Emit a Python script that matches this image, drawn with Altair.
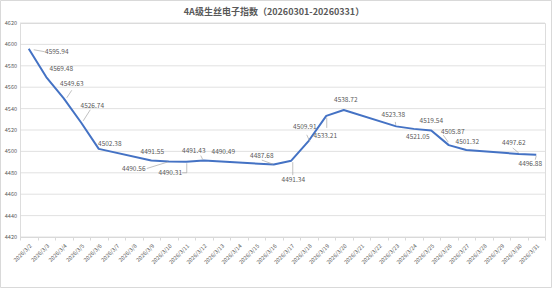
import altair as alt
import pandas as pd

# x-axis categories (every calendar day shown on the axis)
axis_days = [f"2026/3/{d}" for d in range(2, 32)]

# trading days with index values
trade_days = ["2026/3/2", "2026/3/3", "2026/3/4", "2026/3/5", "2026/3/6",
              "2026/3/9", "2026/3/10", "2026/3/11", "2026/3/12", "2026/3/13",
              "2026/3/16", "2026/3/17", "2026/3/18", "2026/3/19", "2026/3/20",
              "2026/3/23", "2026/3/24", "2026/3/25", "2026/3/26", "2026/3/27",
              "2026/3/30", "2026/3/31"]
values = [4595.94, 4569.48, 4549.63, 4526.74, 4502.38,
          4491.55, 4490.56, 4490.31, 4491.43, 4490.49,
          4487.68, 4491.34, 4509.91, 4533.21, 4538.72,
          4523.38, 4521.05, 4519.54, 4505.87, 4501.32,
          4497.62, 4496.88]
y_ticks = [4420, 4440, 4460, 4480, 4500, 4520, 4540, 4560, 4580, 4600, 4620]

title = "4A级生丝电子指数（20260301-20260331）"

# label placement (pixel offsets of label centre from its point)
label_dx = [28, 15, 8, 11, 11, 1, -35, -16, -10, 2, -12, 2, -4, -1, 2, -3, 4, 0, 4, 1, -5, -6]
label_dy = [3, -8, -14, -17, -5, -8.5, 7.5, 11, -9.5, -9.5, -8.5, 19.5, -14, 20, -10, -11.5, 8, -9.5, -13, -8, -11, 9]
# leader lines: (day, x-start, y-start, x-end, y-end) in pixels from the point
leaders = [
    ("2026/3/2", 5, 1, 16, 3),
    ("2026/3/4", 3, -0.5, 8, -8),
    ("2026/3/5", 2, -2, 9, -13),
    ("2026/3/10", -22, 7, -1, 0.5),
    ("2026/3/11", -4, 11, 0.5, 11),
    ("2026/3/11", 0.5, 11, 0.5, 1.5),
    ("2026/3/12", -1, -1, -3, -5),
    ("2026/3/16", -12, -4.5, -1, -0.5),
    ("2026/3/17", 1.5, 1.5, 1.5, 14.5),
    ("2026/3/18", -2, -6, 1, 0.7),
    ("2026/3/19", 0.5, 2, 0.5, 12),
    ("2026/3/23", -1, -4.5, -0.5, -1.5),
    ("2026/3/26", -5.5, -10, -0.5, -3),
    ("2026/3/30", -6, -6, 0, -1),
    ("2026/3/31", -1, 5, 0, 1),
]

FONT = "Noto Sans CJK SC"
GREY = "#595959"
GRID = "#D9D9D9"
LINE = "#4472C4"

df = pd.DataFrame({"day": trade_days, "value": values})
df["label"] = [f"{v:.2f}" for v in values]
tick_df = pd.DataFrame({"value": y_ticks})
tick_df["label"] = [str(t) for t in y_ticks]

xscale = alt.Scale(domain=axis_days, type="band", paddingInner=0, paddingOuter=0)
yscale = alt.Scale(domain=[y_ticks[0], y_ticks[-1]], nice=False, zero=False)

x_axis = alt.Axis(title=None, labelAngle=-45, labelFontSize=5.5,
                  labelColor=GREY, labelFont=FONT, tickBand="extent",
                  tickColor=GRID, tickSize=3, domainColor=GRID,
                  labelPadding=3, grid=False, labelOverlap=False)

x_enc = alt.X("day:O", scale=xscale, bandPosition=0.5, sort=axis_days, axis=x_axis)
y_enc = alt.Y("value:Q", scale=yscale, axis=None)

# gridlines and y labels
grid = alt.Chart(tick_df).mark_rule(color=GRID, strokeWidth=0.8).encode(
    y=y_enc, x=alt.value(0), x2=alt.value(525))
ylab = alt.Chart(tick_df).mark_text(align="right", baseline="middle", fontSize=5.5,
                                    font=FONT, color=GREY, dx=-3).encode(
    y=y_enc, x=alt.value(0), text="label:N")

base = alt.Chart(df)

line = base.mark_line(color=LINE, strokeWidth=2, strokeJoin="round").encode(x=x_enc, y=y_enc)

layers = [grid, ylab, line]

for d, dx, dy in zip(trade_days, label_dx, label_dy):
    layers.append(
        base.transform_filter(alt.datum.day == d)
        .mark_text(dx=dx, dy=dy, fontSize=6.5, font=FONT, color=GREY,
                   align="center", baseline="middle")
        .encode(x=x_enc, y=y_enc, text="label:N")
    )

for d, x0, y0, x1, y1 in leaders:
    layers.append(
        base.transform_filter(alt.datum.day == d)
        .mark_rule(color="#A6A6A6", strokeWidth=0.7,
                   xOffset=x0, yOffset=y0, x2Offset=x1, y2Offset=y1)
        .encode(x=x_enc, y=y_enc,
                x2=alt.X2("day:O", bandPosition=0.5), y2=alt.Y2("value:Q"))
    )

one = alt.Chart(pd.DataFrame({"k": [0]}))
border = one.mark_rect(fill=None, stroke=GRID, strokeWidth=1).encode(
    x=alt.value(-19.5), x2=alt.value(531.5), y=alt.value(-22.5), y2=alt.value(264.5))
title_mark = one.mark_text(text=title, fontSize=9, fontWeight="bold", color=GREY,
                           font=FONT, align="center", baseline="middle").encode(
    x=alt.value(254), y=alt.value(-11))
layers += [border, title_mark]

chart = alt.layer(*layers).properties(
    width=525, height=214,
    autosize=alt.AutoSizeParams(type="none"),
    padding={"left": 20, "top": 23, "right": 8, "bottom": 52},
).configure_view(stroke=None).configure(background="white")

chart.save("out.html", embed_options={"renderer": "svg", "actions": False})
